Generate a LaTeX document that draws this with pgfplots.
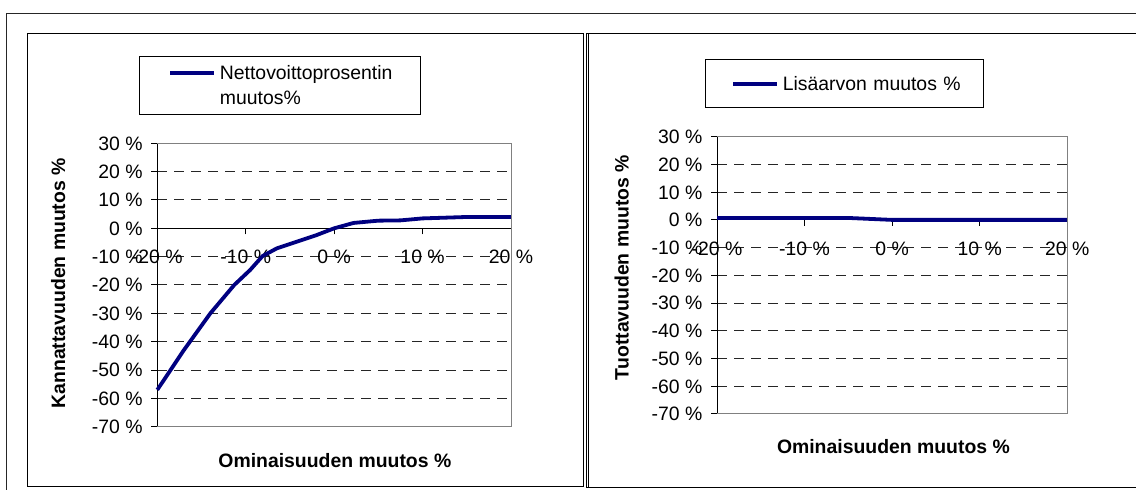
\documentclass[border=0pt]{standalone}
\usepackage{fontspec}
\setmainfont{Liberation Sans}
\usepackage{pgfplots}
\pgfplotsset{compat=1.18}

\definecolor{navyline}{RGB}{0,0,128}
\definecolor{framegray}{RGB}{128,128,128}
\newcommand\chartfont{\fontsize{19.4}{25}\selectfont}

\pgfplotsset{
  excelpanel/.style={
    scale only axis, clip=false,
    xmin=-20, xmax=20, ymin=-70, ymax=30,
    axis x line=middle, axis y line=left,
    hide obscured x ticks=false, hide obscured y ticks=false,
    axis line style={-, black, line width=1pt},
    xtick={-20,-10,0,10,20},
    xticklabels={-20 \%,-10 \%,0 \%,10 \%,20 \%},
    ytick={-70,-60,...,30},
    yticklabels={-70 \%,-60 \%,-50 \%,-40 \%,-30 \%,-20 \%,-10 \%,0 \%,10 \%,20 \%,30 \%},
    tick align=outside,
    major tick length=6pt,
    tick style={black, line width=1pt},
    ymajorgrids,
    grid style={black!85, line width=1pt, dash pattern=on 10pt off 7pt},
    tick label style={font=\chartfont, inner sep=0pt},
    xticklabel style={anchor=base, yshift=-29.5pt},
    yticklabel style={anchor=base east, xshift=-8.5pt, yshift=-6.9pt},
    label style={font=\chartfont\bfseries},
    xlabel={Ominaisuuden muutos \%},
    legend cell align=left,
    legend style={anchor=north west, draw=black, line width=1pt, inner xsep=0pt,
      font=\chartfont, cells={anchor=base west},
      nodes={inner sep=0pt, text depth=, align=left}},
    after end axis/.code={
      \draw[framegray, line width=1pt] (rel axis cs:0,1) -- (rel axis cs:1,1)
        -- (rel axis cs:1,0) -- (rel axis cs:0,0);
    },
  }
}

\begin{document}
\begin{tikzpicture}[x=1pt,y=1pt]
\useasboundingbox (0,0) rectangle (1136,490);

% outer frame and panel frames
\draw[black!85, line width=1.3pt] (6.7,-5) -- (6.7,476.7) -- (1145,476.7);
\draw[black, line width=1pt] (27.3,3.3) rectangle (583.3,456.7);
\draw[black, line width=1pt] (1145,456.7) -- (586.6,456.7) -- (586.6,2.7) -- (1145,2.7);
\draw[black, line width=0.7pt] (588.6,456.7) -- (588.6,2.7);

% left chart
\begin{axis}[excelpanel,
  at={(157.3pt,63.3pt)}, anchor=south west,
  width=353.7pt, height=283.4pt,
  ylabel={Kannattavuuden muutos \%},
  ylabel style={at={(axis description cs:-0.280,0.506)}, anchor=center},
  xlabel style={at={(axis description cs:0.502,-0.120)}, anchor=center},
  legend style={at={(axis description cs:-0.0509,1.308)}, inner ysep=9.3pt,
    column sep=3.5pt, nodes={text width=200.5pt}},
  legend image code/.code={\path[draw=none] (0pt,0pt) -- (30.7pt,0pt);
    \draw[#1] (30.7pt,6.9pt) -- (74.7pt,6.9pt);},
]
\addplot[navyline, line width=3.8pt, line join=round, mark=none] coordinates {
  (-20,-57) (-17,-43) (-14,-30) (-11.3,-20) (-9.5,-14.7) (-8.1,-9.8)
  (-6.5,-7.1) (-4.2,-4.7) (-2,-2.4) (0,0) (2.2,1.9) (5,2.7) (7.5,2.8)
  (10,3.5) (15,4.0) (20,4.0)
};
\addlegendentry{Nettovoittoprosentin\\muutos\%}
\end{axis}

% right chart
\begin{axis}[excelpanel,
  at={(717pt,76pt)}, anchor=south west,
  width=350.3pt, height=277.3pt,
  ylabel={Tuottavuuden muutos \%},
  ylabel style={at={(axis description cs:-0.272,0.528)}, anchor=center},
  xlabel style={at={(axis description cs:0.5036,-0.118)}, anchor=center},
  legend style={at={(axis description cs:-0.0343,1.279)}, inner ysep=16.7pt,
    column sep=3.7pt, nodes={text width=200.3pt}},
  legend image code/.code={\path[draw=none] (0pt,0pt) -- (27.7pt,0pt);
    \draw[#1] (27.7pt,6.9pt) -- (71.7pt,6.9pt);},
]
\addplot[navyline, line width=3.8pt, line join=round, mark=none] coordinates {
  (-20,0.7) (-15,0.7) (-10,0.7) (-5,0.7) (0,0) (5,0) (10,0) (15,0) (20,0)
};
\addlegendentry{Lisäarvon muutos \%}
\end{axis}
\end{tikzpicture}
\end{document}
